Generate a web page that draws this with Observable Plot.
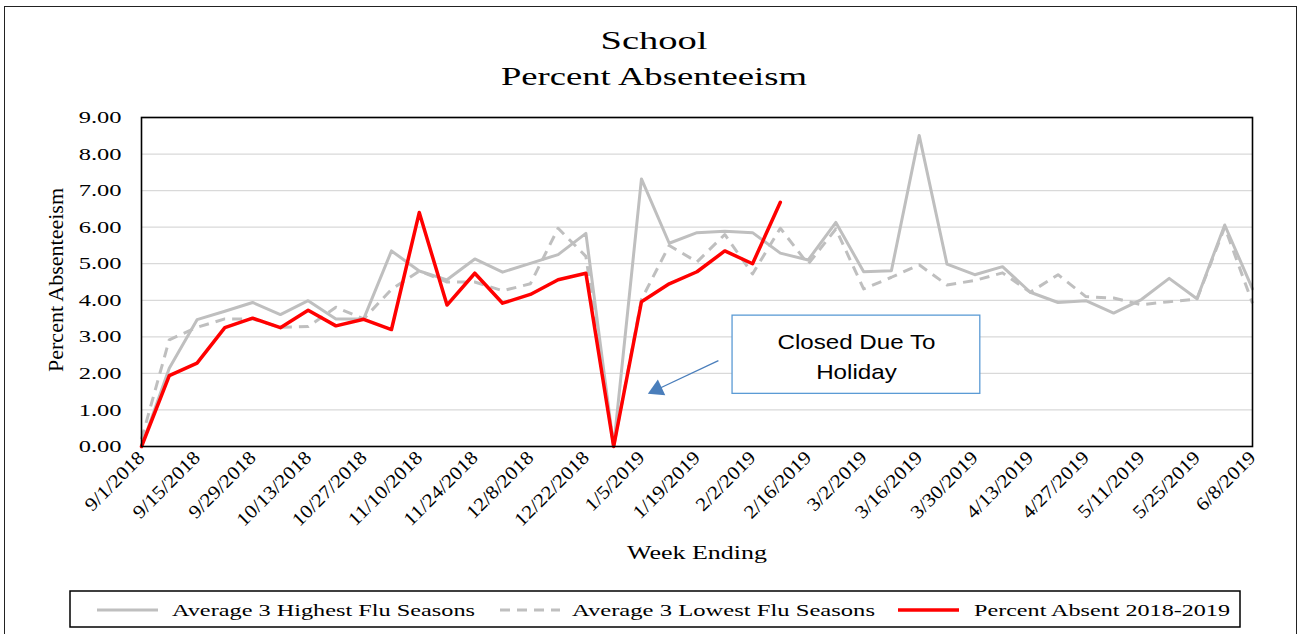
<!DOCTYPE html>
<html><head><meta charset="utf-8">
<script src="https://cdn.jsdelivr.net/npm/d3@7"></script>
<script src="https://cdn.jsdelivr.net/npm/@observablehq/plot@0.6"></script>
<style>
html,body{margin:0;padding:0;background:#fff;}
#wrap{position:relative;width:1302px;height:634px;overflow:hidden;background:#fff;}
#wrap svg{position:absolute;left:0;top:0;}
#border{position:absolute;left:4px;top:6px;width:1293px;height:660px;border:1.5px solid #222;box-sizing:border-box;}
</style></head><body><div id="wrap"><div id="border"></div></div>
<script>
// ---- data ----
const weeks = ["9/1/2018","9/8/2018","9/15/2018","9/22/2018","9/29/2018","10/6/2018","10/13/2018","10/20/2018","10/27/2018","11/3/2018","11/10/2018","11/17/2018","11/24/2018","12/1/2018","12/8/2018","12/15/2018","12/22/2018","12/29/2018","1/5/2019","1/12/2019","1/19/2019","1/26/2019","2/2/2019","2/9/2019","2/16/2019","2/23/2019","3/2/2019","3/9/2019","3/16/2019","3/23/2019","3/30/2019","4/6/2019","4/13/2019","4/20/2019","4/27/2019","5/4/2019","5/11/2019","5/18/2019","5/25/2019","6/1/2019","6/8/2019"];
const highest = [0,2.14,3.47,3.70,3.94,3.61,3.99,3.49,3.49,5.35,4.80,4.56,5.13,4.77,5.01,5.25,5.83,0,7.32,5.56,5.85,5.89,5.85,5.29,5.10,6.13,4.78,4.81,8.51,4.99,4.70,4.92,4.22,3.94,3.99,3.65,4.02,4.60,4.04,6.06,4.31];
const lowest = [0.2,2.92,3.26,3.49,3.49,3.26,3.28,3.81,3.49,4.30,4.80,4.50,4.50,4.26,4.45,5.97,5.20,0,4.02,5.50,5.05,5.80,4.72,5.97,4.99,5.95,4.31,4.63,4.97,4.42,4.54,4.75,4.22,4.70,4.10,4.06,3.88,3.96,4.03,6.00,3.92];
const current = [0,1.94,2.28,3.25,3.51,3.25,3.73,3.30,3.48,3.20,6.40,3.87,4.74,3.92,4.16,4.56,4.74,0,3.96,4.45,4.78,5.35,5.00,6.68];
const seriesNames = ["Average 3 Highest Flu Seasons","Average 3 Lowest Flu Seasons","Percent Absent 2018-2019"];
const titleLines = ["School","Percent Absenteeism"];
const yLabel = "Percent Absenteeism";
const xLabel = "Week Ending";
const yTicks = d3.range(0, 10);
const xTicks = d3.range(0, weeks.length, 2);
const noteText = "Closed Due To\nHoliday";
const noteBox = {x1: 21.28, x2: 30.2, y1: 1.44, y2: 3.58};
const noteArrow = {x1: 20.77, y1: 2.35, x2: 18.56, y2: 1.56};

// ---- styles ----
const GRAY = "#bfbfbf", RED = "#ff0000", BLUE = "#4a7ebb";
const SERIF = "'Liberation Serif','Times New Roman',serif";
const SANS = "'Liberation Sans',Arial,sans-serif";

const chart = Plot.plot({
  width: 1302, height: 634,
  marginLeft: 141, marginRight: 50, marginTop: 117, marginBottom: 188,
  style: {fontFamily: SERIF, background: "transparent", color: "#000"},
  x: {type: "linear", domain: [0, weeks.length - 1]},
  y: {domain: [0, 9]},
  marks: [
    Plot.gridY(yTicks.slice(1), {stroke: "#d9d9d9", strokeOpacity: 1, strokeWidth: 1.3}),
    Plot.lineY(highest, {x: (d, i) => i, y: d => d, stroke: GRAY, strokeWidth: 3}),
    Plot.lineY(lowest, {x: (d, i) => i, y: d => d, stroke: GRAY, strokeWidth: 3, strokeDasharray: "10,7", strokeLinecap: "butt"}),
    Plot.lineY(current, {x: (d, i) => i, y: d => d, stroke: RED, strokeWidth: 3.5}),
    Plot.frame({stroke: "#000", strokeWidth: 1.6}),
    Plot.rect([noteBox], {x1: "x1", x2: "x2", y1: "y1", y2: "y2", fill: "white", stroke: "#5b9bd5", strokeWidth: 1.3}),
    Plot.text([noteBox], {x: d => (d.x1 + d.x2) / 2, y: d => (d.y1 + d.y2) / 2, text: () => noteText, fontFamily: SANS, fontSize: 21, lineHeight: 1.4, fill: "#000"}),
    Plot.link([noteArrow], {x1: "x1", y1: "y1", x2: "x2", y2: "y2", stroke: BLUE, strokeWidth: 1.3}),
    Plot.dot([noteArrow], {x: "x2", y: "y2", symbol: "triangle", r: 6.5, rotate: 245, fill: BLUE, stroke: "none"}),
    Plot.axisY({ticks: yTicks, tickFormat: d => d.toFixed(2), tickSize: 0, tickPadding: 20, fontSize: 17.5, label: null}),
    Plot.axisX({ticks: xTicks, tickFormat: i => weeks[i], tickRotate: -45, tickSize: 0, tickPadding: 8, fontSize: 19, label: null})
  ]
});
document.getElementById("wrap").appendChild(chart);

const svg = d3.select(chart);
function stretchBy(sel, k) {
  sel.each(function () {
    const L = this.getComputedTextLength();
    this.setAttribute("textLength", L * k);
    this.setAttribute("lengthAdjust", "spacingAndGlyphs");
  });
}
function fitTo(sel, w) {
  sel.attr("textLength", w).attr("lengthAdjust", "spacingAndGlyphs");
}
stretchBy(svg.selectAll('g[aria-label="y-axis tick label"] text'), 1.4);
stretchBy(svg.selectAll('g[aria-label="x-axis tick label"] text'), 1.12);
stretchBy(svg.selectAll('g[aria-label="text"] tspan'), 1.15);

// titles
const ov = svg.append("g").attr("font-family", SERIF).attr("fill", "#000");
fitTo(ov.append("text").attr("x", 654).attr("y", 49).attr("text-anchor", "middle").attr("font-size", 26).text(titleLines[0]), 107);
fitTo(ov.append("text").attr("x", 654).attr("y", 85).attr("text-anchor", "middle").attr("font-size", 26).text(titleLines[1]), 306);
fitTo(ov.append("text").attr("transform", "translate(63,280) rotate(-90)").attr("text-anchor", "middle").attr("font-size", 21).text(yLabel), 184);
fitTo(ov.append("text").attr("x", 697).attr("y", 559).attr("text-anchor", "middle").attr("font-size", 19).text(xLabel), 140);

// legend
const lg = svg.append("g");
lg.append("rect").attr("x", 70).attr("y", 591).attr("width", 1170).attr("height", 36).attr("fill", "white").attr("stroke", "#000").attr("stroke-width", 1.5);
const items = [
  {x0: 97, x1: 158, tx: 172, tw: 303, stroke: GRAY, dash: null, sw: 3},
  {x0: 500, x1: 560, tx: 572, tw: 303, stroke: GRAY, dash: "10,7", sw: 3},
  {x0: 898, x1: 959, tx: 974, tw: 256, stroke: RED, dash: null, sw: 3.5}
];
items.forEach((it, i) => {
  lg.append("line").attr("x1", it.x0).attr("x2", it.x1).attr("y1", 610).attr("y2", 610)
    .attr("stroke", it.stroke).attr("stroke-width", it.sw).attr("stroke-dasharray", it.dash);
  fitTo(lg.append("text").attr("x", it.tx).attr("y", 616).attr("text-anchor", "start").attr("font-family", SERIF).attr("font-size", 16.5).text(seriesNames[i]), it.tw);
});
</script></body></html>
